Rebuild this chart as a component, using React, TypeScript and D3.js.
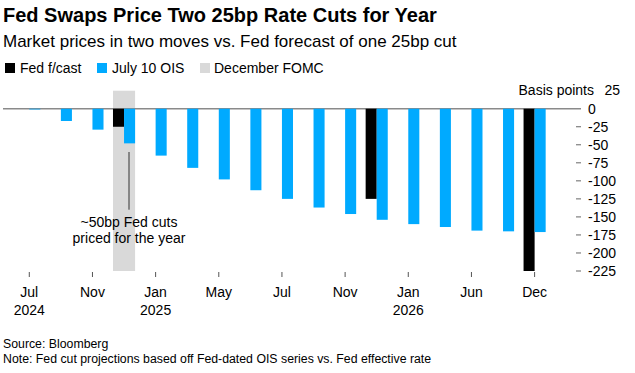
import React from 'react';
import * as d3 from 'd3';

// FOMC meeting dates on the x axis
const meetings = [
  'Jul 2024', 'Sep 2024', 'Nov 2024', 'Dec 2024', 'Jan 2025', 'Mar 2025', 'May 2025',
  'Jun 2025', 'Jul 2025', 'Sep 2025', 'Nov 2025', 'Dec 2025', 'Jan 2026', 'Mar 2026',
  'Jun 2026', 'Sep 2026', 'Dec 2026',
];

// Fed dot-plot forecast (cumulative bp), only at December meetings
const fedForecast = [0, 0, 0, -25, 0, 0, 0, 0, 0, 0, 0, -125, 0, 0, 0, 0, -225];

// OIS pricing as of July 10 (cumulative bp)
const oisJuly10 = [-1, -17, -29, -48, -65, -82, -98, -113, -125, -137, -146, -154, -160, -164, -169, -170, -171];

// labelled ticks: [meeting, month, year]
const xTicks: [string, string, string][] = [
  ['Jul 2024', 'Jul', '2024'],
  ['Nov 2024', 'Nov', ''],
  ['Jan 2025', 'Jan', '2025'],
  ['May 2025', 'May', ''],
  ['Jul 2025', 'Jul', ''],
  ['Nov 2025', 'Nov', ''],
  ['Jan 2026', 'Jan', '2026'],
  ['Jun 2026', 'Jun', ''],
  ['Dec 2026', 'Dec', ''],
];

const yTicks = [0, -25, -50, -75, -100, -125, -150, -175, -200, -225];
const highlightMeeting = 'Dec 2024';

const BLUE = '#00aaff';
const FONT = '"Liberation Sans", Arial, Helvetica, sans-serif';

export default function App() {
  const width = 635;
  const height = 373;

  const x = d3.scaleBand<string>()
    .domain(meetings)
    .range([13.5, 550.4])
    .paddingInner(0.3)
    .paddingOuter(0.15);
  const bw = x.bandwidth();

  const y = d3.scaleLinear().domain([25, -225]).range([90.7, 271]);

  const axisX = 576;

  return (
    <svg width={width} height={height} style={{ position: 'absolute', left: 0, top: 0, fontFamily: FONT }}>
      <rect width={width} height={height} fill="#fff" />

      <text x={3} y={22} fontSize={20} fontWeight="bold" fill="#000">
        Fed Swaps Price Two 25bp Rate Cuts for Year
      </text>
      <text x={3} y={47} fontSize={17} fill="#000">
        Market prices in two moves vs. Fed forecast of one 25bp cut
      </text>

      {/* legend */}
      <g fontSize={14} fill="#000">
        <rect x={5} y={63} width={10} height={10} fill="#000" />
        <text x={20} y={73}>Fed f/cast</text>
        <rect x={97} y={63} width={10} height={10} fill={BLUE} />
        <text x={112} y={73}>July 10 OIS</text>
        <rect x={200} y={63} width={10} height={10} fill="#d9d9d9" />
        <text x={214} y={73}>December FOMC</text>
      </g>

      {/* December FOMC highlight */}
      <rect x={x(highlightMeeting)} y={y(25)} width={bw} height={y(-225) - y(25)} fill="#d9d9d9" />

      {/* zero line */}
      <line x1={3} x2={axisX + 5} y1={y(0)} y2={y(0)} stroke="#8a8a8a" strokeWidth={1.5} />

      {/* bars */}
      {meetings.map((m, i) => (
        <g key={m}>
          {fedForecast[i] !== 0 && (
            <rect x={x(m)} y={y(0)} width={bw / 2} height={y(fedForecast[i]) - y(0)} fill="#000" />
          )}
          <rect x={(x(m) ?? 0) + bw / 2} y={y(0)} width={bw / 2} height={y(oisJuly10[i]) - y(0)} fill={BLUE} />
        </g>
      ))}

      {/* annotation */}
      <line x1={129} x2={129} y1={y(-60)} y2={y(-140)} stroke="#333" strokeWidth={1} />
      <text x={129} y={226.5} fontSize={14} textAnchor="middle" fill="#000">~50bp Fed cuts</text>
      <text x={129} y={243} fontSize={14} textAnchor="middle" fill="#000">priced for the year</text>

      {/* right axis */}
      <g fontSize={14} fill="#000">
        {yTicks.map(t => (
          <g key={t}>
            {t !== 0 && <line x1={axisX} x2={axisX + 5} y1={y(t)} y2={y(t)} stroke="#666" strokeWidth={1} />}
            <text x={588} y={y(t)} dy="0.35em">{t}</text>
          </g>
        ))}
        <text x={594} y={95} textAnchor="end">Basis points</text>
        <text x={620} y={95} textAnchor="end">25</text>
      </g>

      {/* x axis */}
      <g fontSize={14} fill="#000" textAnchor="middle">
        {xTicks.map(([m, mon, yr]) => {
          const cx = (x(m) ?? 0) + bw / 2;
          return (
            <g key={m}>
              <line x1={cx} x2={cx} y1={272} y2={277} stroke="#555" strokeWidth={1} />
              <text x={cx} y={297}>{mon}</text>
              {yr && <text x={cx} y={315}>{yr}</text>}
            </g>
          );
        })}
      </g>

      {/* footer */}
      <text x={3} y={348} fontSize={12.3} fill="#000">Source: Bloomberg</text>
      <text x={3} y={363} fontSize={12.3} fill="#000">
        Note: Fed cut projections based off Fed-dated OIS series vs. Fed effective rate
      </text>
    </svg>
  );
}
